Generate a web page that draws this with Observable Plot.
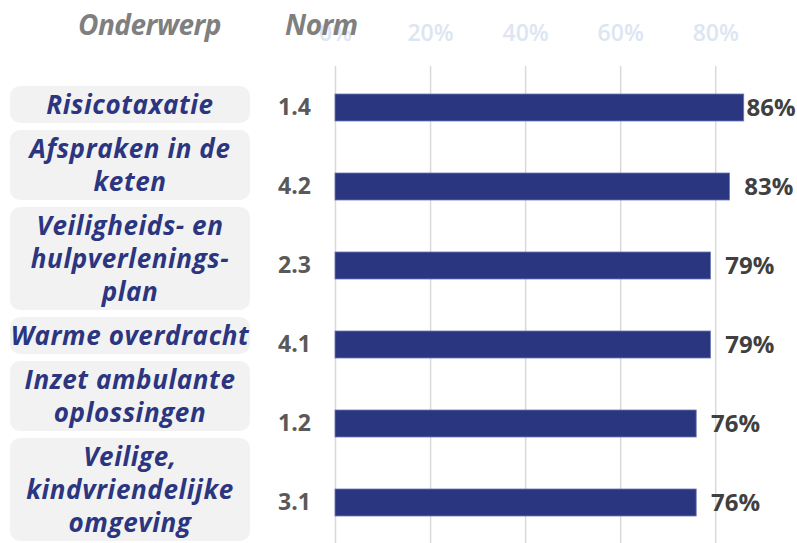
<!DOCTYPE html>
<html>
<head>
<meta charset="utf-8">
<script src="https://cdn.jsdelivr.net/npm/d3@7"></script>
<script src="https://cdn.jsdelivr.net/npm/@observablehq/plot@0.6"></script>
<style>
  html, body { margin: 0; padding: 0; background: #fff; }
  #wrap { position: relative; width: 797px; height: 543px; overflow: hidden; font-family: "Open Sans", Lato, sans-serif; }
  #chart { position: absolute; left: 0; top: 0; }
  .hdr { position: absolute; top: 5px; font-size: 28px; font-weight: 700; font-style: italic; color: #7f7f7f; white-space: nowrap; letter-spacing: -0.5px; }
  #boxes { position: absolute; left: 10px; top: 86px; width: 240px; display: flex; flex-direction: column; gap: 7px; }
  .box { background: #f2f2f2; border-radius: 10px; padding: 2px 0; line-height: 33px; text-align: center; white-space: pre;
         font-size: 26px; font-weight: 700; font-style: italic; color: #2b3580; letter-spacing: 0.6px; display: flex; flex-direction: column; align-items: center; }
</style>
</head>
<body>
<div id="wrap">
  <div id="chart"></div>
  <div id="boxes"></div>
  <div class="hdr" style="left:78px">Onderwerp</div>
  <div class="hdr" style="left:285px">Norm</div>
</div>
<script>
const topics = ["Risicotaxatie", "Afspraken in de\nketen", "Veiligheids- en\nhulpverlenings-\nplan", "Warme overdracht", "Inzet ambulante\noplossingen", "Veilige,\nkindvriendelijke\nomgeving"];
const norms = ["1.4", "4.2", "2.3", "4.1", "1.2", "3.1"];
const scores = [0.86, 0.83, 0.79, 0.79, 0.76, 0.76];
const ticks = [0, 0.2, 0.4, 0.6, 0.8];

const data = topics.map((t, i) => ({topic: t, norm: norms[i], score: scores[i]}));

const boxes = document.getElementById("boxes");
for (const t of topics) {
  const d = document.createElement("div");
  d.className = "box";
  for (const line of t.split("\n")) {
    const s = document.createElement("span");
    s.textContent = line;
    d.appendChild(s);
  }
  boxes.appendChild(d);
}

const chart = Plot.plot({
  width: 797,
  height: 543,
  marginLeft: 335,
  marginRight: 1,
  marginTop: 66,
  marginBottom: 0,
  style: {fontFamily: "'Open Sans', Lato, sans-serif", background: "transparent"},
  x: {domain: [0, 0.97], axis: null},
  y: {domain: topics, axis: null, paddingInner: 0.66, paddingOuter: 0.33},
  marks: [
    Plot.ruleX(ticks, {stroke: "#d9d9d9", strokeWidth: 1.5}),
    Plot.axisX(ticks, {anchor: "top", label: null, tickSize: 0, tickPadding: 26, tickFormat: d3.format(".0%"), fontSize: 23, fill: "#dce6f2", fontWeight: 600}),
    Plot.barX(data, {x: "score", y: "topic", fill: "#2b3680", stroke: "#6c78b4", strokeWidth: 0.8}),
    Plot.text(data, {y: "topic", text: "norm", frameAnchor: "left", dx: -41, textAnchor: "middle", fontSize: 23, fontWeight: 700, fill: "#595959"}),
    Plot.text(data, {x: d => Math.min(d.score + 0.03, 0.865), y: "topic", text: d => d3.format(".0%")(d.score), textAnchor: "start", fontSize: 24, fontWeight: 700, fill: "#404040"})
  ]
});
document.getElementById("chart").appendChild(chart);
</script>
</body>
</html>
